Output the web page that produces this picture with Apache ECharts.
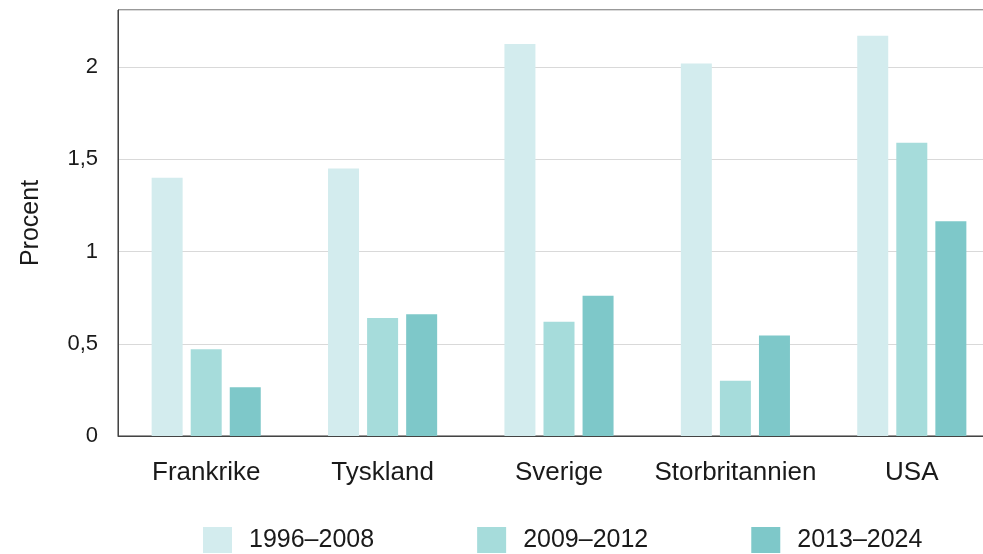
<!DOCTYPE html>
<html>
<head>
<meta charset="utf-8">
<script src="https://cdn.jsdelivr.net/npm/echarts@6/dist/echarts.min.js"></script>
<style>html,body{margin:0;padding:0;background:#fff;overflow:hidden}#c{width:1000px;height:554px}</style>
</head>
<body>
<div id="c"></div>
<script>
const categories = ['Frankrike', 'Tyskland', 'Sverige', 'Storbritannien', 'USA'];
const seriesNames = ['1996–2008', '2009–2012', '2013–2024'];
const values1996 = [1.40, 1.45, 2.125, 2.02, 2.17];
const values2009 = [0.47, 0.64, 0.62, 0.30, 1.59];
const values2013 = [0.265, 0.66, 0.76, 0.545, 1.165];
const yTicks = [0, 0.5, 1, 1.5, 2];

const colors = ['#d3ecee', '#a6dcdb', '#7ec8c9'];
const font = 'Liberation Sans, Arial, sans-serif';

const chart = echarts.init(document.getElementById('c'), null, {renderer: 'canvas'});
chart.setOption({
  animation: false,
  backgroundColor: '#fff',
  color: colors,
  grid: {left: 118, right: 0, top: 10, bottom: 118, show: true, borderColor: '#333', borderWidth: 1, backgroundColor: 'transparent'},
  legend: {
    data: seriesNames,
    left: 203, top: 527, padding: 0,
    itemWidth: 29, itemHeight: 26, itemGap: 103,
    icon: 'rect',
    textStyle: {fontFamily: font, fontSize: 25, color: '#1a1a1a', padding: [3, 0, 0, 12]}
  },
  xAxis: {
    type: 'category',
    data: categories,
    axisLine: {lineStyle: {color: '#444', width: 1}},
    axisTick: {show: false},
    axisLabel: {fontFamily: font, fontSize: 26, color: '#1a1a1a', margin: 24, interval: 0}
  },
  yAxis: {
    type: 'value',
    min: 0, max: 2.31, interval: 0.5,
    name: 'Procent',
    nameLocation: 'middle',
    nameGap: 74,
    nameTextStyle: {fontFamily: font, fontSize: 25, color: '#1a1a1a'},
    axisLine: {show: true, lineStyle: {color: '#444', width: 1}},
    axisTick: {show: false},
    splitLine: {lineStyle: {color: '#d9d9d9', width: 1}},
    axisLabel: {
      fontFamily: font, fontSize: 22, color: '#1a1a1a', margin: 20,
      formatter: function (v) {
        if (yTicks.indexOf(Math.round(v * 100) / 100) < 0) return '';
        return String(v).replace('.', ',');
      }
    }
  },
  series: [
    {name: seriesNames[0], type: 'bar', data: values1996, barWidth: 31, barGap: '26%'},
    {name: seriesNames[1], type: 'bar', data: values2009, barWidth: 31, barGap: '26%'},
    {name: seriesNames[2], type: 'bar', data: values2013, barWidth: 31, barGap: '26%'}
  ]
});
</script>
</body>
</html>
